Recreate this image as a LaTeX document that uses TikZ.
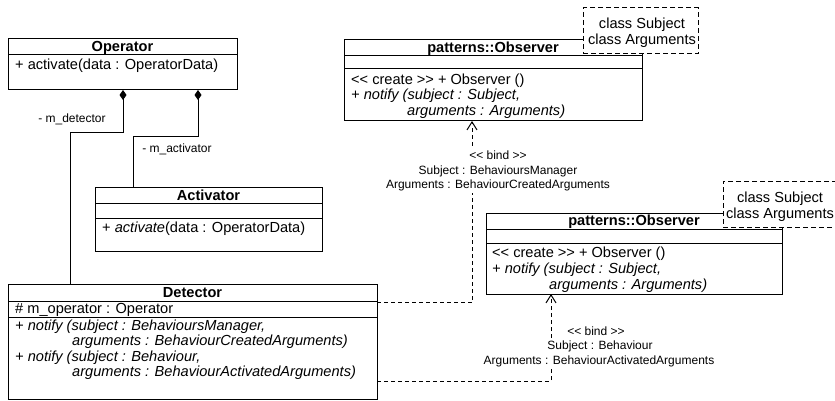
\documentclass[tikz,border=0pt]{standalone}
\usepackage{fontspec}
\setmainfont{Liberation Sans}
\usetikzlibrary{arrows.meta,calc}
\begin{document}
\begin{tikzpicture}[x=1pt,y=-1pt,
  box/.style={draw, line width=1pt, anchor=north west, inner sep=0pt, outer sep=0pt},
  sepline/.style={line width=1pt},
  tpl/.style={draw, dash pattern=on 5pt off 3pt, line width=1pt, fill=white, anchor=north west, inner sep=0pt, outer sep=0pt},
  txt/.style={anchor=base west, inner sep=0pt, font=\fontsize{14.6}{15.5}\selectfont},
  ttl/.style={anchor=base, inner sep=0pt, font=\fontsize{14.6}{15.5}\selectfont\bfseries},
  ctr/.style={anchor=base, inner sep=0pt, font=\fontsize{14.6}{15.5}\selectfont},
  lbl/.style={anchor=base, inner sep=0pt, font=\fontsize{12}{14.5}\selectfont},
  bindlbl/.style={lbl, fill=white, inner xsep=2pt, inner ysep=0.5pt, text height=10pt, text depth=4pt},
  comp/.style={line width=1pt, {Diamond[length=10pt,width=7pt]}-},
  dep/.style={line width=1pt, dash pattern=on 4pt off 3pt, -{Straight Barb[length=8pt,width=10pt]}}
]
\useasboundingbox (0,0) rectangle (835,401);

% ---- Operator
\node[box, minimum width=229pt, minimum height=51pt] (op) at (8,39) {};
\draw[sepline] ($(op.north west)+(0,16)$) -- ($(op.north east)+(0,16)$);
\node[ttl] (opT) at (122.5,52) {Operator};
\node[txt] (opM) at (15,70) {+ activate(data : OperatorData)};

% ---- Activator
\node[box, minimum width=227pt, minimum height=64pt] (act) at (95,187) {};
\draw[sepline] ($(act.north west)+(0,16)$) -- ($(act.north east)+(0,16)$);
\draw[sepline] ($(act.north west)+(0,31)$) -- ($(act.north east)+(0,31)$);
\node[ttl] (actT) at (208.5,200) {Activator};
\node[txt] (actM) at (102,232) {+ \textit{activate}(data : OperatorData)};

% ---- Detector
\node[box, minimum width=369pt, minimum height=115pt] (det) at (8,284) {};
\draw[sepline] ($(det.north west)+(0,17)$) -- ($(det.north east)+(0,17)$);
\draw[sepline] ($(det.north west)+(0,33)$) -- ($(det.north east)+(0,33)$);
\node[ttl] (detT) at (192.5,297) {Detector};
\node[txt] (detA) at (15,313) {\# m\_operator : Operator};
\node[txt] (detM1) at (15,330) {\itshape + notify (subject : BehavioursManager,};
\node[txt] (detM2) at (72,345.5) {\itshape arguments : BehaviourCreatedArguments)};
\node[txt] (detM3) at (15,361) {\itshape + notify (subject : Behaviour,};
\node[txt] (detM4) at (72,376.5) {\itshape arguments : BehaviourActivatedArguments)};

% ---- patterns::Observer (upper)
\node[box, minimum width=298pt, minimum height=81pt] (obs1) at (344,40) {};
\draw[sepline] ($(obs1.north west)+(0,16)$) -- ($(obs1.north east)+(0,16)$);
\draw[sepline] ($(obs1.north west)+(0,29)$) -- ($(obs1.north east)+(0,29)$);
\node[ttl] (obs1T) at (493,53) {patterns::Observer};
\node[txt] (obs1M1) at (351,84.5) {<\kern0pt< create >\kern0pt> + Observer ()};
\node[txt] (obs1M2) at (351,100) {\itshape + notify (subject : Subject,};
\node[txt] (obs1M3) at (407,116) {\itshape arguments : Arguments)};

% ---- patterns::Observer (lower)
\node[box, minimum width=296pt, minimum height=81pt] (obs2) at (486,213) {};
\draw[sepline] ($(obs2.north west)+(0,16)$) -- ($(obs2.north east)+(0,16)$);
\draw[sepline] ($(obs2.north west)+(0,30)$) -- ($(obs2.north east)+(0,30)$);
\node[ttl] (obs2T) at (634,225.5) {patterns::Observer};
\node[txt] (obs2M1) at (492,257.5) {<\kern0pt< create >\kern0pt> + Observer ()};
\node[txt] (obs2M2) at (492,273) {\itshape + notify (subject : Subject,};
\node[txt] (obs2M3) at (549,289) {\itshape arguments : Arguments)};

% ---- template parameter boxes
\node[tpl, minimum width=115pt, minimum height=46pt] (tpl1) at (583,8) {};
\node[ctr] (tpl1a) at (642,28.5) {class Subject};
\node[ctr] (tpl1b) at (642,45) {class Arguments};
\node[tpl, minimum width=122pt, minimum height=46pt] (tpl2) at (723,181) {};
\node[ctr] (tpl2a) at (780,202) {class Subject};
\node[ctr] (tpl2b) at (780,218.5) {class Arguments};

% ---- compositions
\draw[comp] ($(op.south west)+(115,0)$) -- ++(0,43) -| ($(det.north west)+(62,0)$);
\draw[comp] ($(op.south west)+(190,0)$) -- ++(0,47) -| ($(act.north west)+(38,0)$);
\node[lbl] (roleD) at (72,123) {- m\_detector};
\node[lbl] (roleA) at (177,152.5) {- m\_activator};

% ---- template bindings
\draw[dep] ($(det.north east)+(0,18.5)$) -| ($(obs1.south west)+(128,0)$);
\draw[dep] ($(det.north east)+(0,97)$) -| ($(obs2.south west)+(65,0)$);
\node[bindlbl] (b1a) at (498,159) {<\kern0pt< bind >\kern0pt>};
\node[bindlbl] (b1b) at (498,174) {Subject : BehavioursManager};
\node[bindlbl] (b1c) at (498,188.5) {Arguments : BehaviourCreatedArguments};
\node[bindlbl] (b2a) at (596,335.5) {<\kern0pt< bind >\kern0pt>};
\node[bindlbl] (b2b) at (600,349.5) {Subject : Behaviour};
\node[bindlbl] (b2c) at (599,364) {Arguments : BehaviourActivatedArguments};
\end{tikzpicture}
\end{document}
